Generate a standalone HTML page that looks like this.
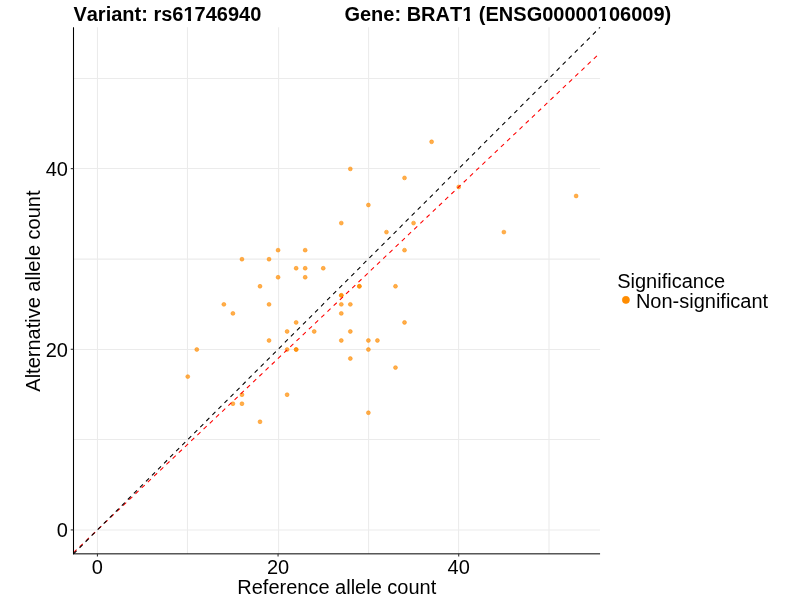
<!DOCTYPE html>
<html><head><meta charset="utf-8"><style>
html,body{margin:0;padding:0;background:#fff;width:800px;height:600px;overflow:hidden}
svg{display:block;will-change:transform}
text{font-family:"Liberation Sans",Arial,Helvetica,sans-serif;fill:#000;font-kerning:none}
</style></head><body>
<svg width="800" height="600" viewBox="0 0 800 600">
<rect width="800" height="600" fill="#fff"/>
<g stroke="#EBEBEB" stroke-width="1.07"><line x1="97.45" y1="27.28" x2="97.45" y2="553.85"/><line x1="187.45" y1="27.28" x2="187.45" y2="553.85"/><line x1="278.60" y1="27.28" x2="278.60" y2="553.85"/><line x1="368.60" y1="27.28" x2="368.60" y2="553.85"/><line x1="458.60" y1="27.28" x2="458.60" y2="553.85"/><line x1="549.00" y1="27.28" x2="549.00" y2="553.85"/><line x1="73.50" y1="529.95" x2="600.07" y2="529.95"/><line x1="73.50" y1="439.55" x2="600.07" y2="439.55"/><line x1="73.50" y1="349.55" x2="600.07" y2="349.55"/><line x1="73.50" y1="259.10" x2="600.07" y2="259.10"/><line x1="73.50" y1="168.55" x2="600.07" y2="168.55"/><line x1="73.50" y1="78.55" x2="600.07" y2="78.55"/></g>
<g fill="#FF8C00" fill-opacity="0.7" stroke="#FF8C00" stroke-opacity="0.7" stroke-width="0.71"><circle cx="431.62" cy="141.79" r="1.95"/><circle cx="350.33" cy="168.89" r="1.95"/><circle cx="404.52" cy="177.92" r="1.95"/><circle cx="458.71" cy="186.95" r="1.95"/><circle cx="576.13" cy="195.98" r="1.95"/><circle cx="368.39" cy="205.01" r="1.95"/><circle cx="341.30" cy="223.08" r="1.95"/><circle cx="413.55" cy="223.08" r="1.95"/><circle cx="386.46" cy="232.11" r="1.95"/><circle cx="503.87" cy="232.11" r="1.95"/><circle cx="278.07" cy="250.17" r="1.95"/><circle cx="305.17" cy="250.17" r="1.95"/><circle cx="404.52" cy="250.17" r="1.95"/><circle cx="241.95" cy="259.21" r="1.95"/><circle cx="269.04" cy="259.21" r="1.95"/><circle cx="296.14" cy="268.24" r="1.95"/><circle cx="305.17" cy="268.24" r="1.95"/><circle cx="323.23" cy="268.24" r="1.95"/><circle cx="278.07" cy="277.27" r="1.95"/><circle cx="305.17" cy="277.27" r="1.95"/><circle cx="260.01" cy="286.30" r="1.95"/><circle cx="359.36" cy="286.30" r="1.95"/><circle cx="395.49" cy="286.30" r="1.95"/><circle cx="341.30" cy="295.33" r="1.95"/><circle cx="223.88" cy="304.37" r="1.95"/><circle cx="269.04" cy="304.37" r="1.95"/><circle cx="341.30" cy="304.37" r="1.95"/><circle cx="350.33" cy="304.37" r="1.95"/><circle cx="232.91" cy="313.40" r="1.95"/><circle cx="341.30" cy="313.40" r="1.95"/><circle cx="296.14" cy="322.43" r="1.95"/><circle cx="404.52" cy="322.43" r="1.95"/><circle cx="287.11" cy="331.46" r="1.95"/><circle cx="314.20" cy="331.46" r="1.95"/><circle cx="350.33" cy="331.46" r="1.95"/><circle cx="269.04" cy="340.49" r="1.95"/><circle cx="341.30" cy="340.49" r="1.95"/><circle cx="368.39" cy="340.49" r="1.95"/><circle cx="377.43" cy="340.49" r="1.95"/><circle cx="196.79" cy="349.53" r="1.95"/><circle cx="287.11" cy="349.53" r="1.95"/><circle cx="296.14" cy="349.53" r="1.95"/><circle cx="368.39" cy="349.53" r="1.95"/><circle cx="350.33" cy="358.56" r="1.95"/><circle cx="395.49" cy="367.59" r="1.95"/><circle cx="187.75" cy="376.62" r="1.95"/><circle cx="241.95" cy="394.69" r="1.95"/><circle cx="287.11" cy="394.69" r="1.95"/><circle cx="232.91" cy="403.72" r="1.95"/><circle cx="241.95" cy="403.72" r="1.95"/><circle cx="368.39" cy="412.75" r="1.95"/><circle cx="260.01" cy="421.78" r="1.95"/><circle cx="341.30" cy="295.33" r="1.95"/><circle cx="359.36" cy="286.30" r="1.95"/><circle cx="296.14" cy="349.53" r="1.95"/></g>
<line x1="73.50" y1="552.63" x2="600.07" y2="52.82" stroke="#FF0000" stroke-width="1.07" stroke-dasharray="4.27 4.27"/>
<line x1="73.50" y1="553.85" x2="600.07" y2="27.28" stroke="#000" stroke-width="1.07" stroke-dasharray="4.27 4.27"/>
<g stroke="#000"><line x1="73.50" y1="27.28" x2="73.50" y2="554.35" stroke-width="1.07"/><line x1="73.00" y1="553.85" x2="600.07" y2="553.85" stroke-width="1.0"/></g>
<g stroke="#333333" stroke-width="1.07"><line x1="70.75" y1="529.92" x2="73.50" y2="529.92"/><line x1="97.43" y1="553.85" x2="97.43" y2="556.60"/><line x1="70.75" y1="349.28" x2="73.50" y2="349.28"/><line x1="278.07" y1="553.85" x2="278.07" y2="556.60"/><line x1="70.75" y1="168.64" x2="73.50" y2="168.64"/><line x1="458.71" y1="553.85" x2="458.71" y2="556.60"/></g>
<text x="67.90" y="537.32" text-anchor="end" font-size="20">0</text><text x="97.43" y="573.75" text-anchor="middle" font-size="20">0</text><text x="67.90" y="356.68" text-anchor="end" font-size="20">20</text><text x="278.07" y="573.75" text-anchor="middle" font-size="20">20</text><text x="67.90" y="176.04" text-anchor="end" font-size="20">40</text><text x="458.71" y="573.75" text-anchor="middle" font-size="20">40</text>
<text x="336.78" y="593.85" text-anchor="middle" font-size="20">Reference allele count</text>
<text transform="translate(39.67 291.1) rotate(-90)" text-anchor="middle" font-size="20">Alternative allele count</text>
<text x="73.4" y="20.6" font-size="20" font-weight="bold">Variant: rs61746940</text>
<text x="344.4" y="20.6" font-size="20" font-weight="bold">Gene: BRAT1 (ENSG00000106009)</text>
<rect x="184" y="18" width="4" height="3" fill="#fff"/><rect x="191" y="18" width="4" height="3" fill="#fff"/>
<rect x="463" y="18" width="3" height="3" fill="#fff"/><rect x="470" y="18" width="3" height="3" fill="#fff"/>
<rect x="599" y="18" width="3" height="3" fill="#fff"/><rect x="606" y="18" width="3" height="3" fill="#fff"/>
<text x="617.2" y="288.3" font-size="20">Significance</text>
<circle cx="625.9" cy="299.9" r="3.55" fill="#FF8C00" stroke="#FF8C00" stroke-width="0.71"/>
<text x="635.9" y="308.2" font-size="20">Non-significant</text>
</svg>
</body></html>
